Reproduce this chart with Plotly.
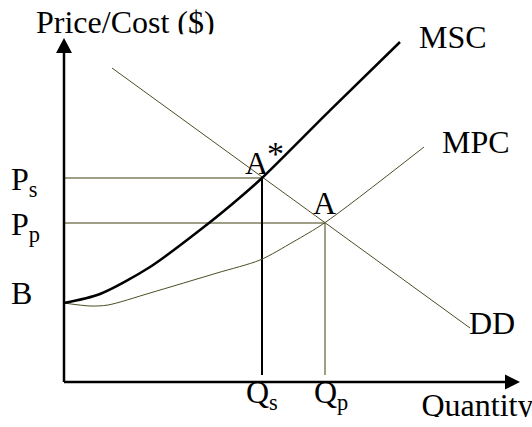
import plotly.graph_objects as go

# ---------------- data (quantity / price units) ----------------
Q_S = 9.9      # socially optimal quantity
Q_P = 13.05    # private market quantity
P_S = 10.2     # social price
P_P = 7.95     # private price
B = 3.95       # intercept of cost curves

dd_q = [2.4, 20.3]
dd_p = [15.7, 2.7]

msc_q = [0, 1.8, 4.3, 7.25, 8.65, 9.9, 13.3, 16.8]
msc_p = [3.95, 4.4, 5.75, 7.95, 9.1, 10.2, 13.58, 17.0]

mpc_q = [0, 1.3, 2.2, 4.3, 7.65, 9.8, 11.45, 13.05, 18.0]
mpc_p = [3.95, 3.8, 3.85, 4.45, 5.45, 6.1, 7.0, 7.97, 11.75]

X_AXIS_END = 22.05
X_ARROW_TIP = 22.8
Y_AXIS_END = 16.45
Y_ARROW_TIP = 17.2
GUIDE_FLOOR = 0.35

# ---------------- styling ----------------
FONT = "Liberation Serif, Times New Roman, serif"
FS = 32
OLIVE_DARK = "#4d4d26"
OLIVE_LIGHT = "#7f7f60"

fig = go.Figure()

def line(x, y, color, width, shape="linear", smoothing=None):
    kw = dict(x=x, y=y, mode="lines", hoverinfo="skip", showlegend=False,
              line=dict(color=color, width=width, shape=shape))
    if smoothing is not None:
        kw["line"]["smoothing"] = smoothing
    fig.add_trace(go.Scatter(**kw))

# guide lines
line([0, Q_S], [P_S, P_S], OLIVE_LIGHT, 1.5)
line([0, Q_P], [P_P, P_P], OLIVE_LIGHT, 1.5)
line([Q_P, Q_P], [P_P, GUIDE_FLOOR], OLIVE_LIGHT, 1.5)
line([Q_S, Q_S], [P_S, GUIDE_FLOOR], "black", 2)

# demand
line(dd_q, dd_p, OLIVE_DARK, 1)
# MPC
line(mpc_q, mpc_p, OLIVE_DARK, 1, "spline", 0.8)
# MSC
line(msc_q, msc_p, "black", 2.5, "spline", 0.8)

# axes
line([0, 0], [Y_AXIS_END, 0], "black", 2.5)
line([0, X_AXIS_END], [0, 0], "black", 2.5)
fig.add_trace(go.Scatter(x=[-0.4, 0.4, 0, -0.4], y=[Y_AXIS_END, Y_AXIS_END, Y_ARROW_TIP, Y_AXIS_END],
                         mode="lines", fill="toself", fillcolor="black",
                         line=dict(width=0, color="black"), hoverinfo="skip", showlegend=False))
fig.add_trace(go.Scatter(x=[X_AXIS_END, X_AXIS_END, X_ARROW_TIP, X_AXIS_END], y=[0.375, -0.375, 0, 0.375],
                         mode="lines", fill="toself", fillcolor="black",
                         line=dict(width=0, color="black"), hoverinfo="skip", showlegend=False))

# clipped titles (text traces so that white masks can cover them)
fig.add_trace(go.Scatter(x=[-1.4], y=[17.84], mode="text", text=["Price/Cost ($)"],
                         textposition="middle right", cliponaxis=False,
                         textfont=dict(family=FONT, size=FS, color="black"),
                         hoverinfo="skip", showlegend=False))
fig.add_trace(go.Scatter(x=[17.875], y=[-1.3], mode="text", text=["Quantity"],
                         textposition="middle right", cliponaxis=False,
                         textfont=dict(family=FONT, size=FS, color="black"),
                         hoverinfo="skip", showlegend=False))

# white masks
shapes = [
    dict(type="rect", xref="x", yref="y", x0=3.8, x1=8.5, y0=16.8, y1=17.385,
         fillcolor="white", line=dict(width=0), layer="above"),
    dict(type="rect", xref="x", yref="y", x0=-1.7, x1=3.8, y0=17.23, y1=17.385,
         fillcolor="white", line=dict(width=0), layer="above"),
    dict(type="rect", xref="x", yref="y", x0=17.3, x1=24, y0=-2.5, y1=-1.75,
         fillcolor="white", line=dict(width=0), layer="above"),
]

def ann(text, x, y, xanchor="left", size=FS):
    return dict(text=text, x=x, y=y, xref="x", yref="y", xanchor=xanchor, yanchor="middle",
                showarrow=False, font=dict(family=FONT, size=size, color="black"))

annotations = [
    ann("MSC", 17.65, 17.26),
    ann("MPC", 18.8, 12.0),
    ann("DD", 20.15, 2.95),
    ann("A", 13.0, 8.95, "center"),
    ann("A", 9.6, 10.95, "center"),
    ann("*", 10.55, 11.44, "center", 34),
    ann("P<sub>s</sub>", -2.75, 10.05),
    ann("P<sub>p</sub>", -2.75, 7.755),
    ann("B", -2.75, 4.455),
    ann("Q<sub>s</sub>", 9.0, -0.645),
    ann("Q<sub>p</sub>", 12.4, -0.645),
]

fig.update_layout(
    width=532, height=427,
    margin=dict(l=0, r=0, t=0, b=0, pad=0, autoexpand=False),
    paper_bgcolor="white", plot_bgcolor="white",
    xaxis=dict(range=[-3.2, 23.4], visible=False, fixedrange=True),
    yaxis=dict(range=[-2.25, 19.1], visible=False, fixedrange=True),
    shapes=shapes,
    annotations=annotations,
    showlegend=False,
)

fig.write_html("out.html", config={"displayModeBar": False},
               post_script="document.body.style.margin='0';document.body.style.overflow='hidden';")
